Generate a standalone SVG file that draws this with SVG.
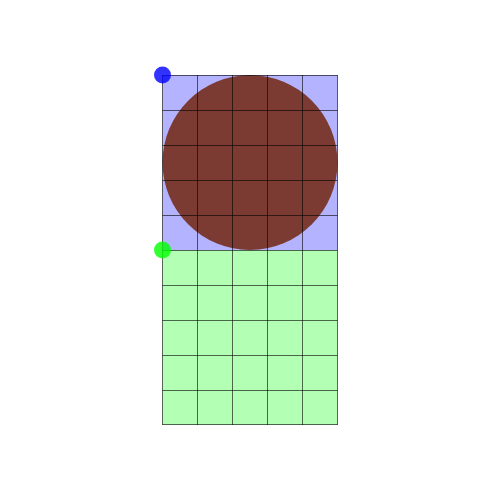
<svg xmlns="http://www.w3.org/2000/svg" width="500" height="500" viewBox="0 0 500 500">
<style>
.grid line{stroke:#000;stroke-opacity:0.6;stroke-width:1}
</style>
<rect width="500" height="500" fill="#fff"/>
<g id="blue-region"><rect x="162.5" y="75" width="175" height="175" fill="#b3b3ff"/></g>
<g id="green-region"><rect x="162.5" y="250" width="175" height="175" fill="#b3ffb3"/></g>
<g id="circle"><circle cx="250" cy="162.5" r="87.5" fill="#7b3b32"/></g>
<g class="grid" id="grid">
<line x1="162.5" y1="75" x2="162.5" y2="425"/>
<line x1="197.5" y1="75" x2="197.5" y2="425"/>
<line x1="232.5" y1="75" x2="232.5" y2="425"/>
<line x1="267.5" y1="75" x2="267.5" y2="425"/>
<line x1="302.5" y1="75" x2="302.5" y2="425"/>
<line x1="337.5" y1="75" x2="337.5" y2="425"/>
<line x1="162.5" y1="75.5" x2="337.5" y2="75.5"/>
<line x1="162.5" y1="110.5" x2="337.5" y2="110.5"/>
<line x1="162.5" y1="145.5" x2="337.5" y2="145.5"/>
<line x1="162.5" y1="180.5" x2="337.5" y2="180.5"/>
<line x1="162.5" y1="215.5" x2="337.5" y2="215.5"/>
<line x1="162.5" y1="250.5" x2="337.5" y2="250.5"/>
<line x1="162.5" y1="285.5" x2="337.5" y2="285.5"/>
<line x1="162.5" y1="320.5" x2="337.5" y2="320.5"/>
<line x1="162.5" y1="355.5" x2="337.5" y2="355.5"/>
<line x1="162.5" y1="390.5" x2="337.5" y2="390.5"/>
<line x1="162.5" y1="424.5" x2="337.5" y2="424.5"/>
</g>
<g id="blue-dot"><circle cx="162.5" cy="75" r="8.5" fill="#0000ff" fill-opacity="0.8"/></g>
<g id="green-dot"><circle cx="162.5" cy="250" r="8.5" fill="#00ff00" fill-opacity="0.8"/></g>
</svg>
